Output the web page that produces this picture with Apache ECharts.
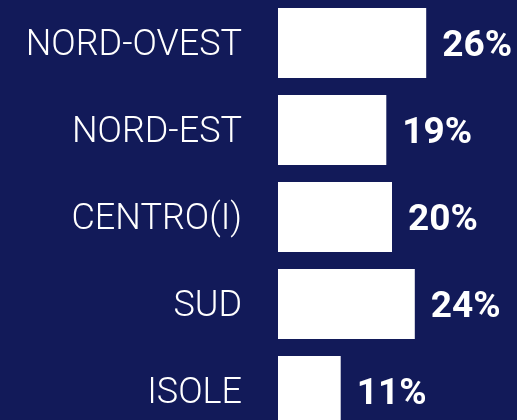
<!DOCTYPE html>
<html>
<head>
<meta charset="utf-8">
<script src="https://cdn.jsdelivr.net/npm/echarts@6/dist/echarts.min.js"></script>
<style>
  html, body { margin: 0; padding: 0; background: #121a59; }
  #chart { width: 517px; height: 420px; }
</style>
</head>
<body>
<div id="chart"></div>
<script>
const regions = ['NORD-OVEST', 'NORD-EST', 'CENTRO(I)', 'SUD', 'ISOLE'];
const shares = [26, 19, 20, 24, 11];

const chart = echarts.init(document.getElementById('chart'));
const option = {
  backgroundColor: '#121a59',
  animation: false,
  grid: {
    left: 278,
    top: -0.5,
    width: 228,
    height: 435,
    outerBoundsMode: 'none'
  },
  xAxis: {
    type: 'value',
    min: 0,
    max: 40,
    show: false
  },
  yAxis: {
    type: 'category',
    inverse: true,
    data: regions,
    axisLine: { show: false },
    axisTick: { show: false },
    axisLabel: {
      margin: 36,
      formatter: '{a|{value}}',
      rich: {
        a: {
          padding: [6, 0, 0, 0],
          color: '#ffffff',
          fontFamily: 'Roboto',
          fontWeight: 300,
          fontSize: 36
        }
      }
    }
  },
  series: [{
    type: 'bar',
    data: shares,
    barWidth: 70,
    itemStyle: { color: '#ffffff' },
    label: {
      show: true,
      position: 'right',
      distance: 16,
      offset: [0, 4],
      formatter: '{c}%',
      color: '#ffffff',
      fontFamily: 'Roboto',
      fontWeight: 'bold',
      fontSize: 37
    }
  }]
};
chart.setOption(option);
</script>
</body>
</html>
